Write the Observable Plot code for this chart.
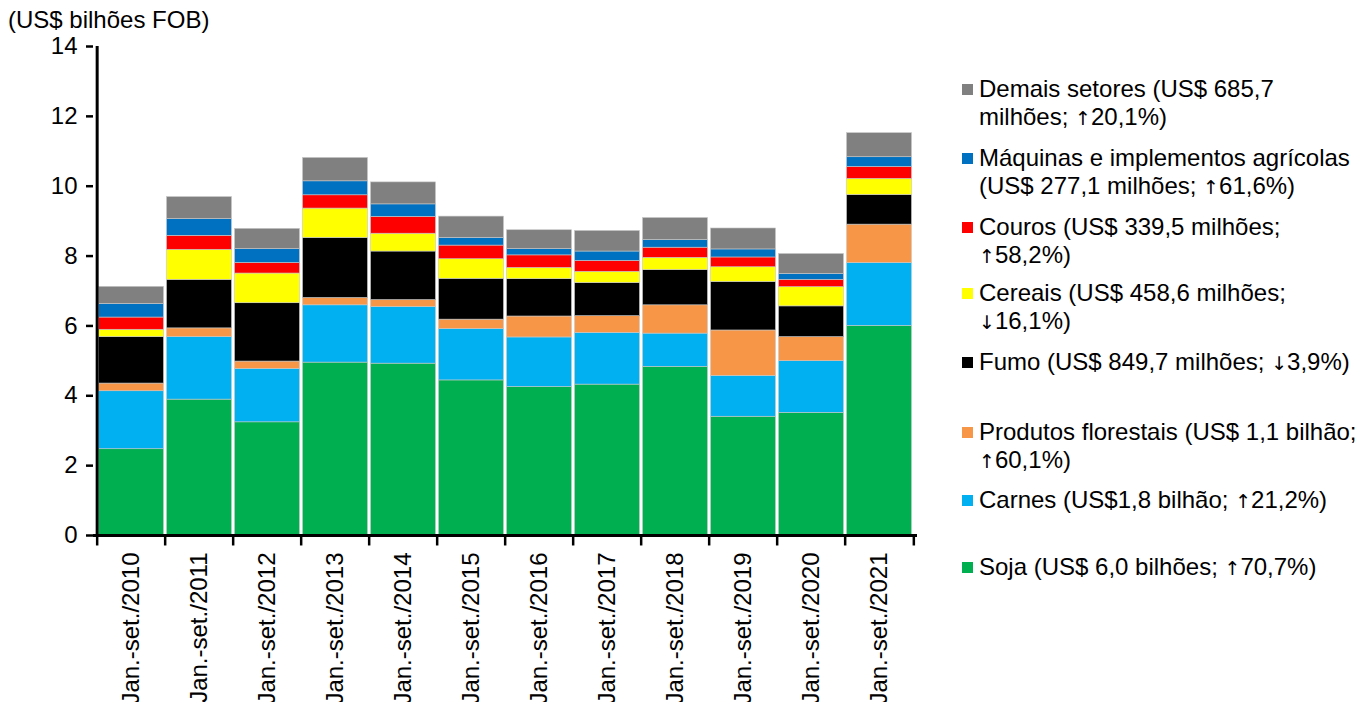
<!DOCTYPE html>
<html>
<head>
<meta charset="utf-8">
<script src="https://cdn.jsdelivr.net/npm/d3@7"></script>
<script src="https://cdn.jsdelivr.net/npm/@observablehq/plot@0.6"></script>
<style>
  html, body { margin: 0; padding: 0; background: #fff; }
  body { width: 1370px; height: 702px; position: relative; overflow: hidden; font-family: "Liberation Sans", Arial, sans-serif; color: #000; }
  #title { position: absolute; left: 8px; top: 6px; font-size: 24px; line-height: 28px; }
  #chart { position: absolute; left: 0; top: 0; }
  .lg { position: absolute; left: 962px; font-size: 24px; line-height: 28px; white-space: nowrap; }
  .lg .sw { position: absolute; left: 0; top: 9px; width: 11px; height: 11px; }
  .lg .tx { position: absolute; left: 17px; top: 0; }
  .ar { font-family: "DejaVu Sans", sans-serif; font-size: 19px; color: #000; }
</style>
</head>
<body>
<div id="title">(US$ bilhões FOB)</div>
<div id="chart"></div>
<div id="legend"></div>
<script>
const years = ["Jan.-set./2010","Jan.-set./2011","Jan.-set./2012","Jan.-set./2013","Jan.-set./2014","Jan.-set./2015","Jan.-set./2016","Jan.-set./2017","Jan.-set./2018","Jan.-set./2019","Jan.-set./2020","Jan.-set./2021"];
const sectors = ["Soja","Carnes","Produtos florestais","Fumo","Cereais","Couros","Máquinas e implementos agrícolas","Demais setores"];
const soja       = [2.47, 3.89, 3.24, 4.95, 4.92, 4.44, 4.25, 4.32, 4.83, 3.40, 3.51, 6.00];
const carnes     = [1.66, 1.79, 1.53, 1.64, 1.62, 1.47, 1.42, 1.48, 0.95, 1.17, 1.48, 1.80];
const florestais = [0.22, 0.25, 0.21, 0.21, 0.20, 0.27, 0.60, 0.48, 0.81, 1.30, 0.69, 1.10];
const fumo       = [1.33, 1.39, 1.67, 1.72, 1.39, 1.17, 1.07, 0.95, 1.01, 1.39, 0.88, 0.85];
const cereais    = [0.21, 0.86, 0.85, 0.84, 0.51, 0.56, 0.32, 0.32, 0.35, 0.42, 0.55, 0.46];
const couros     = [0.35, 0.40, 0.30, 0.38, 0.48, 0.39, 0.36, 0.31, 0.29, 0.28, 0.21, 0.34];
const maquinas   = [0.39, 0.48, 0.40, 0.40, 0.36, 0.22, 0.18, 0.27, 0.22, 0.23, 0.17, 0.28];
const demais     = [0.49, 0.63, 0.58, 0.67, 0.63, 0.61, 0.54, 0.59, 0.63, 0.60, 0.57, 0.69];
const colors = ["#00B050","#00B0F0","#F79646","#000000","#FFFF00","#FF0000","#0070C0","#808080"];
const legendLabels = [
  "Soja (US$ 6,0 bilhões; ↑70,7%)",
  "Carnes (US$1,8 bilhão; ↑21,2%)",
  "Produtos florestais (US$ 1,1 bilhão;<br>↑60,1%)",
  "Fumo (US$ 849,7 milhões; ↓3,9%)",
  "Cereais (US$ 458,6 milhões;<br>↓16,1%)",
  "Couros (US$ 339,5 milhões;<br>↑58,2%)",
  "Máquinas e implementos agrícolas<br>(US$ 277,1 milhões; ↑61,6%)",
  "Demais setores (US$ 685,7<br>milhões; ↑20,1%)"
];
const yTicks = [0, 2, 4, 6, 8, 10, 12, 14];

const series = [soja, carnes, florestais, fumo, cereais, couros, maquinas, demais];
const data = [];
years.forEach((yr, i) => {
  sectors.forEach((s, j) => data.push({year: yr, sector: s, value: series[j][i]}));
});

const W = 940, H = 702, ML = 93, MR = 23, MT = 46, MB = 167;
const bw = (W - ML - MR) / years.length;

const chart = Plot.plot({
  width: W,
  height: H,
  marginLeft: ML,
  marginRight: MR,
  marginTop: MT,
  marginBottom: MB,
  style: {fontFamily: "'Liberation Sans', Arial, sans-serif", fontSize: "24px", color: "#000", background: "transparent", overflow: "visible"},
  x: {domain: years, padding: 0, label: null},
  y: {domain: [0, 14], label: null},
  color: {domain: sectors, range: colors},
  marks: [
    Plot.barY(data, {x: "year", y: "value", fill: "sector", insetLeft: 1.5, insetRight: 1.5, stroke: "#c8c8c8", strokeWidth: 0.6}),
    Plot.axisY({ticks: yTicks, tickSize: 7, tickPadding: 9, tickFormat: d => String(d), stroke: "#000", strokeWidth: 2.5, strokeOpacity: 1, label: null, fontSize: 24}),
    Plot.ruleX([years[0]], {x: d => d, dx: -bw / 2, y1: 0, y2: 14, stroke: "#000", strokeWidth: 3}),
    Plot.ruleY([0], {stroke: "#000", strokeWidth: 3}),
    Plot.ruleX(years, {x: d => d, dx: -bw / 2, y1: 0, y2: -0.3, stroke: "#000", strokeWidth: 2.5}),
    Plot.ruleX([years[years.length - 1]], {x: d => d, dx: bw / 2, y1: 0, y2: -0.3, stroke: "#000", strokeWidth: 2.5}),
    Plot.axisX({tickSize: 0, tickRotate: -90, tickPadding: 17, label: null, fontSize: 24})
  ]
});
document.getElementById("chart").appendChild(chart);

// Legend (HTML)
const legendTop = {"Demais setores": 75, "Máquinas e implementos agrícolas": 144, "Couros": 213, "Cereais": 279, "Fumo": 348, "Produtos florestais": 418, "Carnes": 486, "Soja": 553};
const lg = document.getElementById("legend");
sectors.forEach((s, j) => {
  const d = document.createElement("div");
  d.className = "lg";
  d.style.top = legendTop[s] + "px";
  const txt = legendLabels[j].replace(/([↑↓])/g, '<span class="ar">$1</span>');
  d.innerHTML = `<div class="sw" style="background:${colors[j]}"></div><div class="tx">${txt}</div>`;
  lg.appendChild(d);
});
</script>
</body>
</html>
